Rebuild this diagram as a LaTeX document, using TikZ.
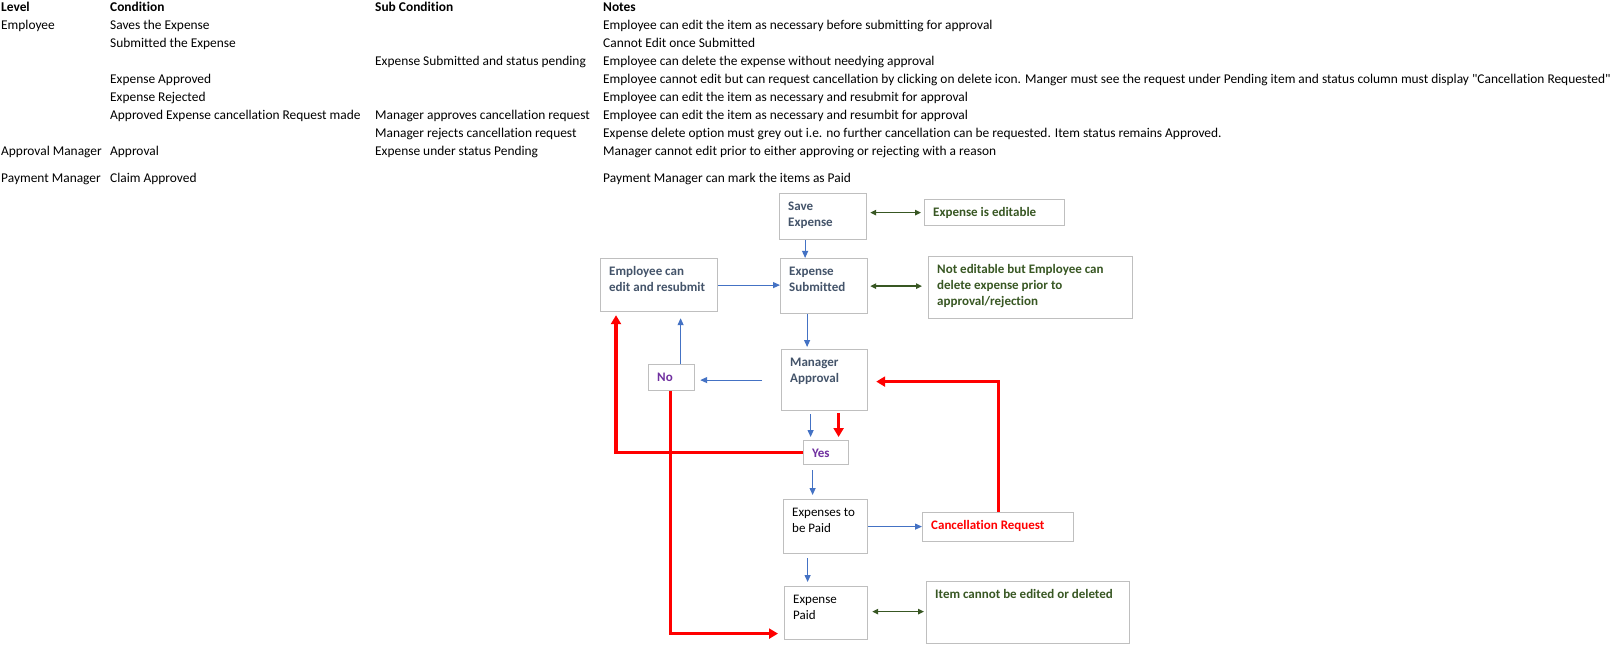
\documentclass[tikz,border=0pt]{standalone}
\usepackage{fontspec}
\setmainfont{Carlito}[Ligatures={TeXOff,CommonOff}]
\definecolor{slatetext}{RGB}{68,84,106}
\definecolor{leafgreen}{RGB}{56,87,35}
\definecolor{plum}{RGB}{112,48,160}
\definecolor{flowblue}{RGB}{68,114,196}
\definecolor{boxgrey}{RGB}{191,191,191}
\usetikzlibrary{arrows.meta,calc}

\begin{document}
\begin{tikzpicture}[x=1pt,y=-1pt,
    cell/.style={anchor=base west, inner sep=0pt, font=\fontsize{13.4}{16}\selectfont},
    head/.style={cell, font=\fontsize{13.4}{16}\selectfont\bfseries},
    box/.style 2 args={draw=boxgrey, line width=1.2pt, anchor=north west, inner sep=0pt,
        minimum width=#1, minimum height=#2},
    boxtext/.style 2 args={label={[anchor=north west, inner sep=0pt, xshift=9pt, yshift=-8.5pt,
        align=left, text=#1, font=\fontsize{13}{16}\selectfont\bfseries]north west:{#2}}},
    plaintext/.style={label={[anchor=north west, inner sep=0pt, xshift=9pt, yshift=-8.5pt,
        align=left, text=black, font=\fontsize{13}{16}\selectfont]north west:{#1}}},
    bluearr/.style={draw=flowblue, line width=1.1pt, -{Triangle[length=7pt,width=6pt]}},
    greenarr/.style={draw=leafgreen, line width=1.3pt,
        {Triangle[length=6pt,width=5.5pt]}-{Triangle[length=6pt,width=5.5pt]}},
    redarr/.style={draw=red, line width=3.2pt, -{Triangle[length=9pt,width=10pt]}}]

    \fill[white] (0,0) rectangle (1619,652);
    \useasboundingbox (0,0) rectangle (1619,652);

    % table of levels and conditions
    \node[head] (lvl0) at (1,12) {Level};
    \node[head] (cond0) at (110,12) {Condition};
    \node[head] (sub0) at (375,12) {Sub Condition};
    \node[head] (note0) at (603,12) {Notes};

    \node[cell] (lvl1) at (1,29.5) {Employee};
    \node[cell] (cond1) at (110,29.5) {Saves the Expense};
    \node[cell] (note1) at (603,29.5) {Employee can edit the item as necessary before submitting for approval};
    \node[cell] (cond2) at (110,47.5) {Submitted the Expense};
    \node[cell] (note2) at (603,47.5) {Cannot Edit once Submitted};
    \node[cell] (sub3) at (375,65.5) {Expense Submitted and status pending};
    \node[cell] (note3) at (603,65.5) {Employee can delete the expense without needying approval};
    \node[cell] (cond4) at (110,83.5) {Expense Approved};
    \node[cell] (note4) at (603,83.5) {Employee cannot edit but can request cancellation by clicking on delete icon. Manger must see the request under Pending item and status column must display "Cancellation Requested"};
    \node[cell] (cond5) at (110,101.5) {Expense Rejected};
    \node[cell] (note5) at (603,101.5) {Employee can edit the item as necessary and resubmit for approval};
    \node[cell] (cond6) at (110,119.5) {Approved Expense cancellation Request made};
    \node[cell] (sub6) at (375,119.5) {Manager approves cancellation request};
    \node[cell] (note6) at (603,119.5) {Employee can edit the item as necessary and resumbit for approval};
    \node[cell] (sub7) at (375,137.5) {Manager rejects cancellation request};
    \node[cell] (note7) at (603,137.5) {Expense delete option must grey out i.e. no further cancellation can be requested. Item status remains Approved.};
    \node[cell] (lvl8) at (1,155.5) {Approval Manager};
    \node[cell] (cond8) at (110,155.5) {Approval};
    \node[cell] (sub8) at (375,155.5) {Expense under status Pending};
    \node[cell] (note8) at (603,155.5) {Manager cannot edit prior to either approving or rejecting with a reason};
    \node[cell] (lvl9) at (1,182.5) {Payment Manager};
    \node[cell] (cond9) at (110,182.5) {Claim Approved};
    \node[cell] (note9) at (603,182.5) {Payment Manager can mark the items as Paid};

    % flow boxes
    \node[box={87}{46}, boxtext={slatetext}{Save\\Expense}] (save) at (779,193) {};
    \node[box={140}{26}, boxtext={leafgreen}{Expense is editable}] (editable) at (924,199) {};
    \node[box={117}{53}, boxtext={slatetext}{Employee can\\edit and resubmit}] (resubmit) at (600,258) {};
    \node[box={87}{55}, boxtext={slatetext}{Expense\\Submitted}] (submitted) at (780,258) {};
    \node[box={204}{62}, boxtext={leafgreen}{Not editable but Employee can\\delete expense prior to\\approval/rejection}] (deletable) at (928,256) {};
    \node[box={86}{61}, boxtext={slatetext}{Manager\\Approval}] (approval) at (781,349) {};
    \node[box={46}{26}, boxtext={plum}{No}] (no) at (648,364) {};
    \node[box={45}{24}, boxtext={plum}{Yes}] (yes) at (803,440) {};
    \node[box={84}{54}, plaintext={Expenses to\\be Paid}] (topay) at (783,499) {};
    \node[box={151}{29}, boxtext={red}{Cancellation Request}] (cancel) at (922,512) {};
    \node[box={83}{53}, plaintext={Expense\\Paid}] (paid) at (784,586) {};
    \node[box={203}{62}, boxtext={leafgreen}{Item cannot be edited or deleted}] (locked) at (926,581) {};

    % blue flow
    \draw[bluearr] ([xshift=-18]save.south) -- ([xshift=-18]save.south |- submitted.north);
    \draw[bluearr] (resubmit.east) -- (resubmit.east -| submitted.west);
    \draw[bluearr, shorten >=2] ([xshift=-17]submitted.south) -- ([xshift=-17]submitted.south |- approval.north);
    \draw[bluearr, shorten <=19, shorten >=5] (approval.west) -- (approval.west -| no.east);
    \draw[bluearr, shorten >=6] ([xshift=9]no.north) -- ([xshift=9]no.north |- resubmit.south);
    \draw[bluearr, shorten <=3, shorten >=3] ([xshift=-14]approval.south) -- ([xshift=-14]approval.south |- yes.north);
    \draw[bluearr, shorten <=5, shorten >=4] ([xshift=-13.5]yes.south) -- ([xshift=-13.5]yes.south |- topay.north);
    \draw[bluearr] (topay.east) -- (topay.east -| cancel.west);
    \draw[bluearr, shorten <=4, shorten >=4] ([xshift=-18]topay.south) -- ([xshift=-18]topay.south |- paid.north);

    % green two-way links
    \draw[greenarr, shorten <=3, shorten >=3] (save.east |- editable.west) -- (editable.west);
    \draw[greenarr, shorten <=2, shorten >=6] (submitted.east) -- (submitted.east -| deletable.west);
    \draw[greenarr, shorten <=4, shorten >=2] ([yshift=1.5]paid.east) -- ([yshift=1.5]paid.east -| locked.west);

    % red cancellation paths
    \draw[redarr, shorten <=2, shorten >=3] ([xshift=14]approval.south) -- ([xshift=14]approval.south |- yes.north);
    \draw[redarr, shorten >=3] (yes.west) -| ([xshift=16]resubmit.south west);
    \draw[redarr, shorten >=6] ([xshift=-1]no.south) |- ([yshift=-20.5]paid.west);
    \draw[redarr, shorten >=8] (cancel.north) |- ([yshift=-1.5]approval.east);
\end{tikzpicture}
\end{document}
